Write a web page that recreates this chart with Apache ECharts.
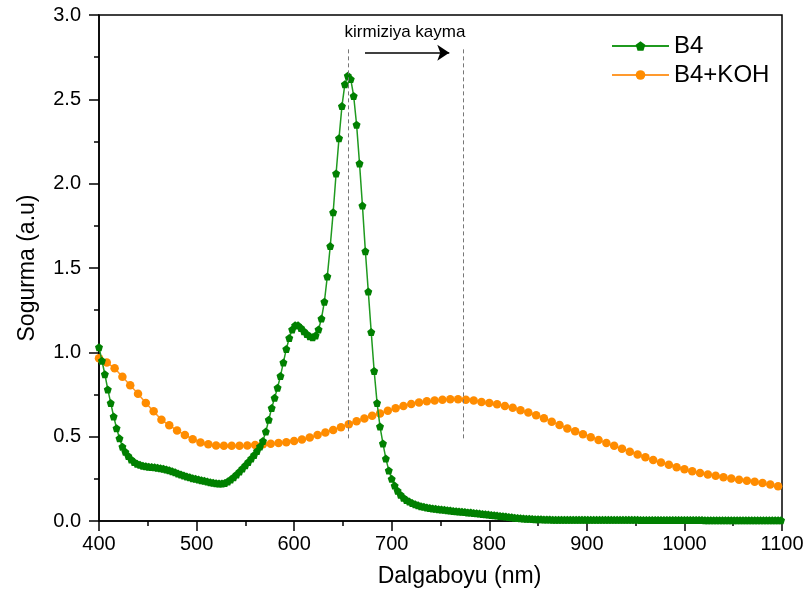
<!DOCTYPE html>
<html>
<head>
<meta charset="utf-8">
<script src="https://cdn.jsdelivr.net/npm/echarts@6/dist/echarts.min.js"></script>
<style>
  html, body { margin: 0; padding: 0; background: #fff; }
  #chart { width: 809px; height: 601px; }
</style>
</head>
<body>
<div id="chart"></div>
<script>
// B4 (green) wavelengths and absorbance
const b4Wavelength = [
  400,403,406,409,412,415,418,421,424,427,430,433,436,439,442,445,448,451,454,457,
  460,463,466,469,472,475,478,481,484,487,490,493,496,499,502,505,508,511,514,517,
  520,523,526,529,532,535,538,541,544,547,550,553,556,559,562,565,568,571,574,577,
  580,583,586,589,592,595,598,601,604,607,610,613,616,619,622,625,628,631,634,637,
  640,643,646,649,652,655,658,661,664,667,670,673,676,679,682,685,688,691,694,697,
  700,703,706,709,712,715,718,721,724,727,730,733,736,739,742,745,748,751,754,757,
  760,763,766,769,772,775,778,781,784,787,790,793,796,799,802,805,808,811,814,817,
  820,823,826,829,832,835,838,841,844,847,850,853,856,859,862,865,868,871,874,877,
  880,883,886,889,892,895,898,901,904,907,910,913,916,919,922,925,928,931,934,937,
  940,943,946,949,952,955,958,961,964,967,970,973,976,979,982,985,988,991,994,997,
  1000,1003,1006,1009,1012,1015,1018,1021,1024,1027,1030,1033,1036,1039,1042,1045,1048,1051,1054,1057,
  1060,1063,1066,1069,1072,1075,1078,1081,1084,1087,1090,1093,1096,1099
];
const b4Values = [
  1.03,0.95,0.87,0.78,0.70,0.62,0.55,0.49,0.44,0.41,0.385,0.365,0.35,0.34,0.333,0.328,0.325,0.322,0.32,0.318,
  0.316,0.313,0.31,0.306,0.301,0.295,0.289,0.282,0.276,0.27,0.264,0.259,0.254,0.25,0.246,0.242,0.238,0.234,0.23,0.227,
  0.224,0.222,0.222,0.226,0.234,0.246,0.26,0.276,0.293,0.311,0.33,0.35,0.37,0.392,0.415,0.442,0.475,0.53,0.60,0.67,
  0.73,0.79,0.86,0.94,1.02,1.085,1.135,1.16,1.16,1.145,1.125,1.108,1.095,1.09,1.10,1.135,1.20,1.30,1.45,1.63,
  1.83,2.06,2.27,2.46,2.59,2.64,2.62,2.52,2.35,2.12,1.87,1.60,1.36,1.12,0.89,0.70,0.56,0.46,0.37,0.30,
  0.25,0.21,0.18,0.156,0.138,0.125,0.115,0.106,0.099,0.093,0.088,0.084,0.08,0.077,0.074,0.072,0.07,0.068,0.066,0.064,
  0.062,0.06,0.058,0.057,0.055,0.053,0.051,0.05,0.048,0.046,0.044,0.042,0.04,0.038,0.036,0.034,0.032,0.03,0.028,0.026,
  0.024,0.022,0.02,0.018,0.017,0.015,0.014,0.013,0.012,0.011,0.01,0.01,0.009,0.009,0.009,0.008,0.008,0.008,0.008,0.008,
  0.008,0.008,0.008,0.008,0.008,0.008,0.008,0.007,0.007,0.007,0.007,0.007,0.007,0.007,0.007,0.007,0.007,0.007,0.007,0.007,
  0.007,0.007,0.007,0.007,0.007,0.006,0.006,0.006,0.006,0.006,0.006,0.006,0.006,0.006,0.006,0.006,0.006,0.006,0.006,0.006,
  0.006,0.006,0.006,0.006,0.006,0.006,0.006,0.005,0.005,0.005,0.005,0.005,0.005,0.005,0.005,0.005,0.005,0.005,0.005,0.005,
  0.005,0.005,0.005,0.005,0.005,0.005,0.005,0.005,0.005,0.005,0.005,0.005,0.005,0.005
];

// B4+KOH (orange) wavelengths and absorbance
const kohWavelength = [
  400,408,416,424,432,440,448,456,464,472,480,488,496,504,512,520,528,536,544,552,
  560,568,576,584,592,600,608,616,624,632,640,648,656,664,672,680,688,696,704,712,
  720,728,736,744,752,760,768,776,784,792,800,808,816,824,832,840,848,856,864,872,
  880,888,896,904,912,920,928,936,944,952,960,968,976,984,992,1000,1008,1016,1024,1032,
  1040,1048,1056,1064,1072,1080,1088,1096
];
const kohValues = [
  0.965,0.94,0.905,0.855,0.805,0.755,0.70,0.65,0.60,0.567,0.537,0.51,0.485,0.465,0.455,0.448,0.446,0.446,0.446,0.447,
  0.45,0.455,0.458,0.462,0.467,0.475,0.483,0.495,0.51,0.525,0.54,0.556,0.574,0.592,0.607,0.624,0.638,0.654,0.668,0.682,
  0.694,0.703,0.71,0.715,0.719,0.722,0.722,0.719,0.714,0.706,0.70,0.692,0.682,0.671,0.657,0.643,0.627,0.609,0.589,0.569,
  0.549,0.532,0.515,0.497,0.48,0.463,0.446,0.428,0.411,0.394,0.378,0.362,0.347,0.333,0.319,0.307,0.295,0.285,0.276,0.268,
  0.26,0.252,0.245,0.238,0.232,0.225,0.217,0.206
];

// annotation: peak positions and the red shift arrow
const peakLines = [655, 773];
const peakLineRange = [0.49, 2.8];
const shiftArrow = { from: 672.6, to: 759, y: 2.776 };
const shiftLabel = { text: "kirmiziya kayma", x: 713.6, y: 2.9 };

const font = "Liberation Sans, Arial, sans-serif";
const pentagon = "path://M0,-1 L0.951,-0.309 L0.588,0.809 L-0.588,0.809 L-0.951,-0.309 Z";

const chart = echarts.init(document.getElementById("chart"), null, { renderer: "canvas" });

const toPairs = (xs, ys) => xs.map((x, i) => [x, ys[i]]);

const option = {
  backgroundColor: "#fff",
  animation: false,
  grid: {
    left: 99,
    right: 27,
    top: 15,
    bottom: 80,
    show: true,
    borderColor: "#000",
    borderWidth: 1.5,
  },
  legend: {
    data: ["B4", "B4+KOH"],
    orient: "vertical",
    left: 606,
    top: 29,
    itemWidth: 57,
    itemHeight: 12,
    itemGap: 5,
    textStyle: { fontFamily: font, fontSize: 24, color: "#000" },
  },
  xAxis: {
    type: "value",
    min: 400,
    max: 1100,
    interval: 100,
    name: "Dalgaboyu (nm)",
    nameLocation: "middle",
    nameGap: 44,
    nameTextStyle: { fontFamily: font, fontSize: 23, color: "#000", padding: [0, 0, 0, 38] },
    axisLine: { onZero: false, lineStyle: { color: "#000", width: 1.5 } },
    axisTick: { length: 10, lineStyle: { color: "#000", width: 1.5 } },
    minorTick: { show: true, splitNumber: 2, length: 5, lineStyle: { color: "#000", width: 1.5 } },
    axisLabel: {
      fontFamily: font, fontSize: 20, color: "#000", margin: 13,
      formatter: (v) => String(v),
    },
    splitLine: { show: false },
  },
  yAxis: {
    type: "value",
    min: 0,
    max: 3,
    interval: 0.5,
    name: "Sogurma (a.u)",
    nameLocation: "middle",
    nameGap: 60,
    nameTextStyle: { fontFamily: font, fontSize: 23, color: "#000" },
    axisLine: { show: true, onZero: false, lineStyle: { color: "#000", width: 1.5 } },
    axisTick: { show: true, length: 10, lineStyle: { color: "#000", width: 1.5 } },
    minorTick: { show: true, splitNumber: 2, length: 5, lineStyle: { color: "#000", width: 1.5 } },
    axisLabel: {
      fontFamily: font, fontSize: 20, color: "#000", margin: 18,
      formatter: (v) => v.toFixed(1),
    },
    splitLine: { show: false },
  },
  series: [
    {
      name: "B4+KOH",
      type: "line",
      data: toPairs(kohWavelength, kohValues),
      symbol: "circle",
      symbolSize: 8.5,
      showSymbol: true,
      itemStyle: { color: "#ff8c00" },
      lineStyle: { color: "#ff9a2e", width: 1.5 },
      z: 2,
      markLine: {
        silent: true,
        symbol: "none",
        label: { show: false },
        lineStyle: { color: "#777", type: [4, 3], width: 1 },
        data: peakLines.map((x) => [
          { coord: [x, peakLineRange[0]] },
          { coord: [x, peakLineRange[1]] },
        ]),
      },
    },
    {
      name: "B4",
      type: "line",
      data: toPairs(b4Wavelength, b4Values),
      symbol: pentagon,
      symbolSize: 8,
      showSymbol: true,
      itemStyle: { color: "#008000" },
      lineStyle: { color: "#1f9a1f", width: 1.5 },
      z: 3,
      markLine: {
        silent: true,
        symbol: ["none", "arrow"],
        symbolSize: 12,
        label: { show: false },
        lineStyle: { color: "#000", type: "solid", width: 1.5 },
        itemStyle: { color: "#000" },
        data: [[
          { coord: [shiftArrow.from, shiftArrow.y] },
          { coord: [shiftArrow.to, shiftArrow.y] },
        ]],
      },
      markPoint: {
        silent: true,
        symbol: "circle",
        symbolSize: 1,
        itemStyle: { color: "rgba(0,0,0,0)" },
        label: {
          show: true,
          position: "inside",
          formatter: shiftLabel.text,
          fontFamily: font,
          fontSize: 17,
          color: "#000",
        },
        data: [{ coord: [shiftLabel.x, shiftLabel.y] }],
      },
    },
  ],
};

chart.setOption(option);
</script>
</body>
</html>
